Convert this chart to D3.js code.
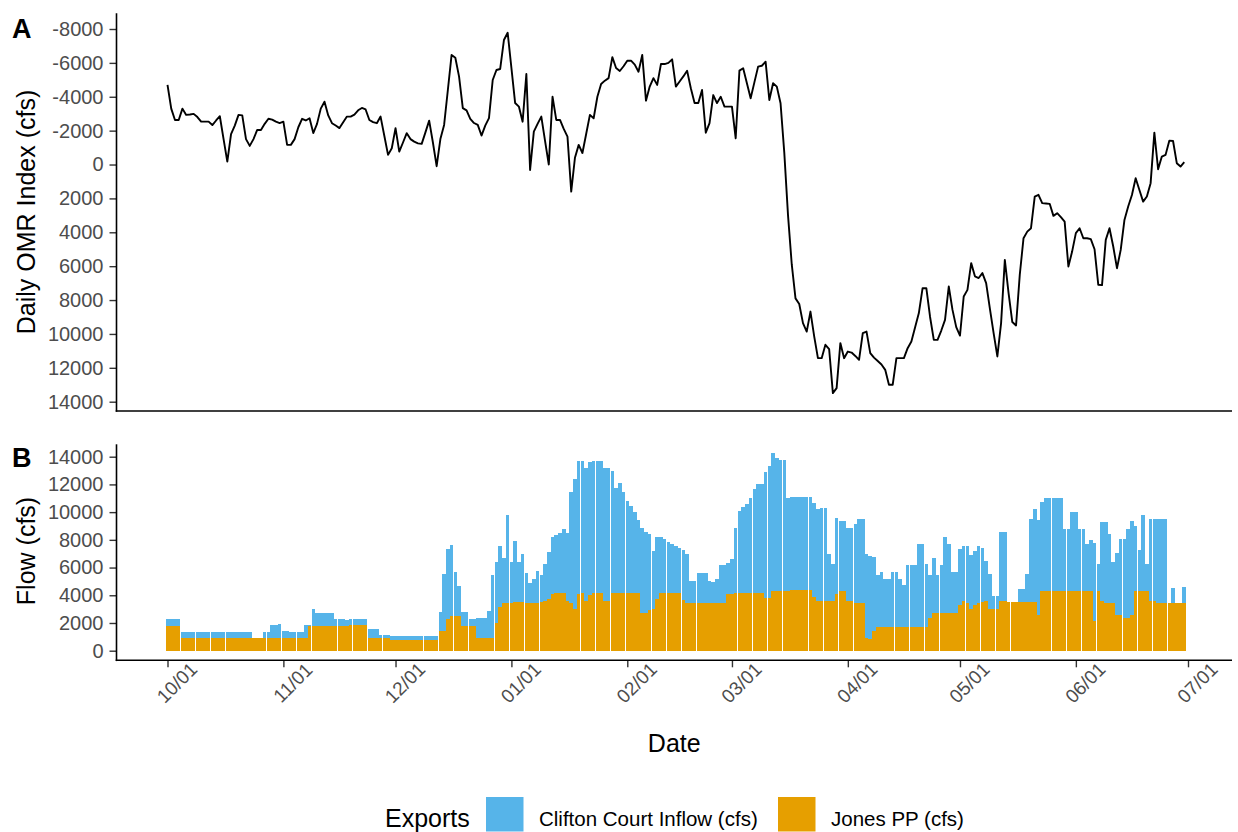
<!DOCTYPE html>
<html><head><meta charset="utf-8">
<script src="https://cdn.jsdelivr.net/npm/d3@7"></script>
<style>
body{margin:0;background:#fff;}
text{font-family:"Liberation Sans",Arial,Helvetica,sans-serif;}
</style>
</head><body>
<svg id="chart" width="1238" height="832"></svg>
<script>
// ---- data (daily, 2021-10-01 .. 2022-06-30) ----
const startDate = "2021-10-01";
const omrIndex = [
-4700,-3300,-2630,-2630,-3300,-2930,-2950,-2990,-2800,-2530,
-2530,-2530,-2330,-2600,-2850,-1500,-170,-1800,-2300,-2930,
-2900,-1500,-1100,-1500,-2040,-2040,-2400,-2700,-2650,-2530,
-2450,-2530,-1160,-1160,-1500,-2200,-2700,-2600,-2730,-1860,
-2400,-3300,-3710,-2900,-2440,-2300,-2150,-2500,-2830,-2830,
-2950,-3200,-3340,-3250,-2630,-2500,-2440,-2830,-1700,-570,
-960,-2150,-760,-1300,-1850,-1500,-1350,-1250,-1220,-1900,
-2590,-1300,100,-1500,-2340,-4400,-6470,-6300,-5190,-3330,
-3200,-2700,-2450,-2340,-1710,-2300,-2740,-4990,-5580,-5640,
-7350,-7780,-5700,-3630,-3420,-2530,-5340,320,-1940,-2400,
-2830,-1400,0,-4000,-2630,-2630,-2100,-1650,1600,-400,
-1160,-680,-1800,-2930,-2730,-4000,-4750,-4950,-5100,-6340,
-5700,-5520,-5800,-6130,-6130,-5900,-5480,-6470,-3770,-4600,
-5100,-4700,-5930,-5930,-6000,-6210,-4600,-4900,-5200,-5540,
-4500,-3630,-3630,-4400,-1880,-2440,-4100,-3630,-4000,-3420,
-3420,-3420,-1550,-5540,-5680,-4800,-3910,-4850,-5780,-5830,
-6070,-3810,-4800,-4600,-3620,-700,3000,5900,7900,8230,
9360,9860,8680,10150,11430,11430,10640,10900,13490,13200,
10540,11430,11040,11100,11300,11530,9950,9860,11130,11400,
11600,11800,12120,13000,13000,11430,11430,11430,10840,10450,
9600,8770,7300,7300,9000,10350,10350,9800,9170,7200,
8580,9600,10100,7790,7400,5820,6600,6700,6410,7000,
8500,9950,11330,9360,5630,7590,9300,9500,6500,4350,
3960,3760,1890,1790,2280,2300,2320,3030,2870,3100,
3370,6020,5140,4050,3760,4350,4350,4400,5000,7100,
7120,4450,3760,4840,6120,5040,3270,2480,1800,810,
1500,2190,1890,1100,-1880,280,-470,-570,-1410,-1390,
-80,120,-140
];
const jonesPP = [
1750,1750,1750,1750,900,900,900,900,900,900,
900,900,900,900,900,900,900,900,900,900,
900,900,900,900,900,900,900,900,900,900,
900,900,900,900,900,900,900,900,1750,1750,
1750,1750,1750,1750,1750,1750,1750,1750,1750,1830,
1830,1830,1830,1830,940,940,940,900,900,900,
780,780,780,780,780,780,780,780,780,780,
780,780,780,1400,1400,2320,2500,2500,2500,1760,
1760,1760,1760,900,900,900,900,900,2000,3140,
3450,3450,3450,3480,3480,3480,3450,3450,3450,3450,
3480,3580,3740,4060,4130,4130,4130,3580,3450,3020,
4060,4130,3620,4000,4130,4130,4130,3620,3620,4180,
4180,4180,4180,4180,4200,4200,4200,2730,2700,2970,
3020,3740,4130,4130,4130,4180,4200,4200,3670,3450,
3450,3450,3450,3450,3450,3450,3450,3450,3450,3450,
4060,4060,4180,4200,4200,4200,4200,4200,4200,4200,
3820,3820,4300,4300,4300,4300,4300,4350,4350,4350,
4350,4350,4350,3860,3580,3580,3580,3580,3580,4110,
4300,4300,3580,3580,3450,3450,3450,900,850,1400,
1720,1720,1720,1720,1720,1720,1720,1720,1720,1720,
1720,1720,1720,1720,2370,2730,2730,2730,2730,2730,
2730,2730,3280,3580,3450,3020,3300,3450,3480,3580,
3040,3040,3040,3580,3580,3530,3530,3530,3530,3530,
3530,3530,3530,2610,4300,4300,4300,4300,4300,4300,
4300,4300,4300,4300,4300,4300,4300,4300,2120,4300,
3580,3450,3450,3450,2590,2590,2370,2370,2610,4300,
4300,4300,4300,3580,3580,3450,3450,3450,3450,3450,
3450,3450,3450
];
const cliftonCourt = [
530,530,530,530,470,470,470,470,470,470,
470,470,470,470,470,470,470,470,470,470,
470,470,470,0,0,0,450,450,930,930,
1030,500,500,480,480,480,480,930,80,1250,
1000,1000,1000,1000,1000,530,530,530,450,450,
450,450,450,450,660,660,660,260,260,260,
260,260,260,260,260,260,260,260,260,260,
260,260,260,1380,4110,5050,5130,3170,2160,1020,
1020,540,540,1490,1490,1490,1950,4560,4430,4420,
3270,6330,2950,4440,2920,3480,2130,1450,1740,2270,
2000,2700,3380,4150,4200,4350,4640,4900,8020,9370,
9610,9540,9570,9600,9540,9540,9540,9540,9540,8820,
7530,7920,7290,6640,6260,5780,5240,6090,5870,5480,
4170,4500,4080,3910,3740,3500,3360,3240,3580,3550,
1570,1570,2130,2170,2170,1570,1490,1690,2730,2730,
2290,2580,4660,5890,6180,6370,6790,7470,7830,7830,
9050,9540,9970,9590,9490,9490,6700,6710,6710,6710,
6710,6710,6710,6790,6680,6710,6710,3380,2650,5500,
5070,5070,5260,5260,5680,6090,6090,6060,5990,5390,
3710,3950,3470,3470,3950,3950,3420,2990,4460,4460,
4460,6010,6010,4510,3110,3990,2750,3450,5510,5000,
2940,2940,4040,3980,4110,3860,3890,4110,3960,2910,
2490,890,890,4990,4990,0,0,0,940,940,
2000,5960,6690,6810,6400,6690,6690,6690,6690,6690,
4470,4470,5680,5680,4470,4470,3430,3670,5680,1930,
5720,5850,5000,2950,4440,5500,5670,6400,6740,4730,
2950,5480,1930,5960,5960,6090,6090,6090,0,1040,
0,0,1140
];
const omrTicks = [-8000,-6000,-4000,-2000,0,2000,4000,6000,8000,10000,12000,14000];
const flowTicks = [0,2000,4000,6000,8000,10000,12000,14000];
const monthTicks = ["2021-10-01","2021-11-01","2021-12-01","2022-01-01","2022-02-01","2022-03-01","2022-04-01","2022-05-01","2022-06-01","2022-07-01"];
const seriesLabels = ["Clifton Court Inflow (cfs)","Jones PP (cfs)"];
const seriesColors = ["#56B4E9","#E69F00"];

// ---- build table ----
const parse = d3.timeParse("%Y-%m-%d");
const t0 = parse(startDate);
const dates = omrIndex.map((_, i) => d3.timeDay.offset(t0, i));
const table = dates.map((d, i) => ({date: d, omr: omrIndex[i], jonesPP: jonesPP[i], cliftonCourt: cliftonCourt[i]}));

// ---- layout ----
const svg = d3.select("#chart");
svg.append("rect").attr("width",1238).attr("height",832).attr("fill","#fff");
const L = 116.5, R = 1232;
const topP = {t: 13.3, b: 411};
const botP = {t: 444.3, b: 660.3};
const grey = "#4D4D4D";

const x = d3.scaleTime().domain([parse("2021-10-01"), parse("2022-07-01")]).range([167.5, 1188]);
const yTop = d3.scaleLinear().domain([-8000, 14000]).range([29, 401.7]);
const yBot = d3.scaleLinear().domain([0, 14000]).range([650.7, 456.7]);

function styleAxis(g, fs){
  g.select(".domain").remove();
  g.selectAll(".tick line").attr("stroke", "#333").attr("stroke-width", 1.4);
  g.selectAll(".tick text").attr("fill", grey).attr("font-size", fs).attr("font-family", '"Liberation Sans",Arial,sans-serif');
}

// ---- panel A ----
const gA = svg.append("g");
const line = d3.line().x(d => x(d.date)).y(d => yTop(d.omr));
gA.append("path").datum(table).attr("d", line).attr("fill","none").attr("stroke","#000").attr("stroke-width",1.9).attr("stroke-linejoin","round");
const axA = gA.append("g").attr("transform",`translate(${L},0)`)
  .call(d3.axisLeft(yTop).tickValues(omrTicks).tickSize(7).tickPadding(6).tickFormat(d => String(d)));
styleAxis(axA, 20);
gA.append("line").attr("x1",L).attr("x2",L).attr("y1",topP.t).attr("y2",topP.b+0.8).attr("stroke","#000").attr("stroke-width",1.6);
gA.append("line").attr("x1",L-0.8).attr("x2",R).attr("y1",topP.b).attr("y2",topP.b).attr("stroke","#000").attr("stroke-width",1.6);
gA.append("text").attr("transform",`translate(35,212) rotate(-90)`).attr("text-anchor","middle").attr("font-size",25).attr("fill","#000").text("Daily OMR Index (cfs)");
gA.append("text").attr("x",12).attr("y",38).attr("font-size",27).attr("font-weight","bold").attr("fill","#000").text("A");

// ---- panel B ----
const gB = svg.append("g");
const stack = d3.stack().keys(["jonesPP","cliftonCourt"]);
const stacked = stack(table);
const colorOf = {cliftonCourt: seriesColors[0], jonesPP: seriesColors[1]};
const dayW = x(dates[1]) - x(dates[0]);
stacked.forEach(layer => {
  gB.append("g").attr("fill", colorOf[layer.key]).attr("shape-rendering","crispEdges")
    .selectAll("rect").data(layer.filter(s => s[1] > s[0])).join("rect")
    .attr("x", s => x(s.data.date) - dayW*0.4775)
    .attr("width", dayW*0.955)
    .attr("y", s => yBot(s[1]))
    .attr("height", s => yBot(s[0]) - yBot(s[1]));
});
const axB = gB.append("g").attr("transform",`translate(${L},0)`)
  .call(d3.axisLeft(yBot).tickValues(flowTicks).tickSize(7).tickPadding(6).tickFormat(d => String(d)));
styleAxis(axB, 20);
const axX = gB.append("g").attr("transform",`translate(0,${botP.b})`)
  .call(d3.axisBottom(x).tickValues(monthTicks.map(parse)).tickSize(7).tickFormat(d3.timeFormat("%m/%d")));
styleAxis(axX, 19);
axX.selectAll(".tick text")
  .attr("text-anchor","middle").attr("dy",null).attr("y",null)
  .attr("transform","translate(9,22.5) rotate(-45)")
  .attr("dominant-baseline","central");
gB.append("line").attr("x1",L).attr("x2",L).attr("y1",botP.t).attr("y2",botP.b+0.8).attr("stroke","#000").attr("stroke-width",1.6);
gB.append("line").attr("x1",L-0.8).attr("x2",R).attr("y1",botP.b).attr("y2",botP.b).attr("stroke","#000").attr("stroke-width",1.6);
gB.append("text").attr("transform",`translate(35,551) rotate(-90)`).attr("text-anchor","middle").attr("font-size",25).attr("fill","#000").text("Flow (cfs)");
gB.append("text").attr("x",12).attr("y",467).attr("font-size",27).attr("font-weight","bold").attr("fill","#000").text("B");
svg.append("text").attr("x",(L+R)/2).attr("y",752).attr("text-anchor","middle").attr("font-size",25).attr("fill","#000").text("Date");

// ---- legend ----
const lg = svg.append("g");
lg.append("text").attr("x",385).attr("y",827).attr("font-size",25).attr("fill","#000").text("Exports");
const keyX = [486, 778], labX = [539, 831];
seriesLabels.forEach((lab, i) => {
  lg.append("rect").attr("x",keyX[i]).attr("y",797).attr("width",37.5).attr("height",34.5).attr("fill",seriesColors[i]);
  lg.append("text").attr("x",labX[i]).attr("y",826).attr("font-size",20.5).attr("fill","#000").text(lab);
});
</script>
</body></html>
